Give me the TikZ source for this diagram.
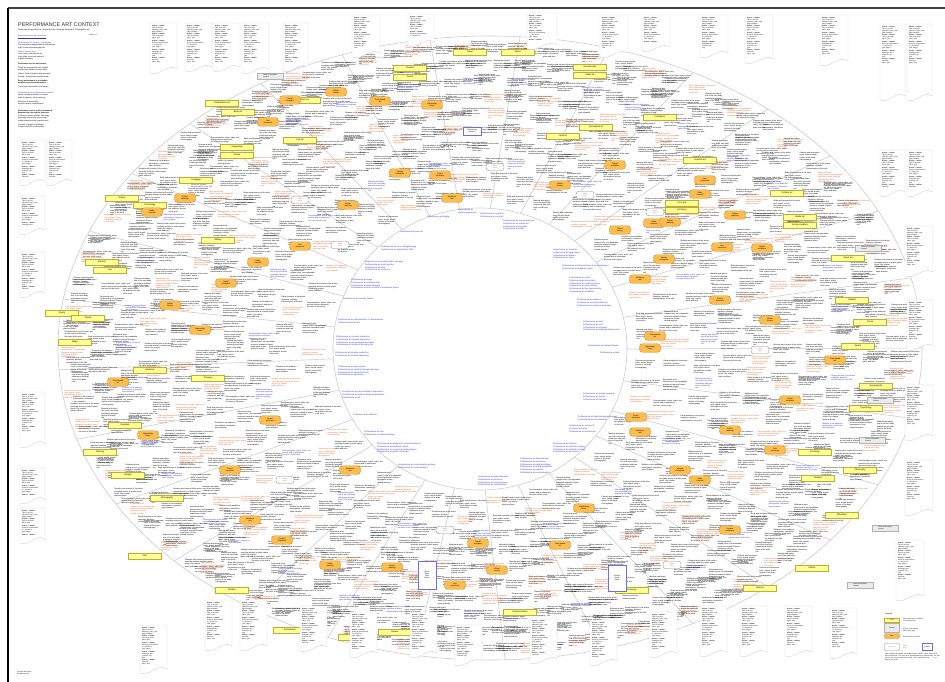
\documentclass[tikz,border=0pt]{standalone}
\usepackage{fontspec}
\setmainfont{Liberation Sans}
\usepackage{tikz}

\definecolor{yelfill}{RGB}{255,255,150}
\definecolor{yelline}{RGB}{190,175,50}
\definecolor{orfill}{RGB}{250,190,80}
\definecolor{orline}{RGB}{226,135,35}
\definecolor{ortxt}{RGB}{236,100,40}
\definecolor{bltxt}{RGB}{45,50,215}
\definecolor{ringgray}{RGB}{205,205,205}
\definecolor{taggray}{RGB}{212,212,212}

% short texts of the ring
\newcommand\blurb[1]{\ifcase#1 Body and presence of the artist\\time, space, action\\the audience as part\\of the work\or
  Relation to the audience\\participation, interaction\\open situation\or
  Situation and context of the action\\everyday actions in public space\\street, city, market\\place and time\or
  Documentation: photo, video, text\\archive and re-enactment\\the trace of the event\or
  Ephemeral work\\unique event, not repeatable\\presence instead of object\\experience of time\\shared moment\or
  Ritual elements in the action\\repetition, duration\\transformation of the self\or
  Gesture and movement\\voice, sound, breath\\rhythm of the body\\choreography\or
  Material and object\\use of the own body\\endurance and pain\\limits of the body\\risk\fi}

\newcommand\olab[1]{\ifcase#1 Vienna\\Actionism\or Body\\concept\or Action\\painting\or Live\\presence\or Social\\sculpture\or Ritual\\theory\or Time-based\\art\or Happening\\score\or Event\\structure\or Audience\\role\fi}

\newcommand\tagbody{\textbf{Source -- Author}\\Title of the text\\publisher, place, year\\page numbers\\[0.6pt]\textbf{Source -- Author}\\Title of the book\\place, year\\[0.6pt]\textbf{Source -- Author}\\Essay on performance\\in: journal, no.\\year, pages\\[0.6pt]\textbf{Source -- Author}\\Catalogue text\\museum, city\\year\\[0.6pt]\textbf{Source -- Author}\\Interview\\place, year}

% tag with wavy lower edge: x, y, w, h, name
\newcommand\tagbox[5]{%
  \draw[tagline] (#1,#2) -- (#1+#3,#2) -- (#1+#3,#2+#4-4)
     .. controls (#1+0.65*#3,#2+#4-10) and (#1+0.35*#3,#2+#4+4) .. (#1,#2+#4) -- cycle;
  \begin{scope}
    \clip (#1,#2) rectangle (#1+#3,#2+#4-9);
    \node[tagtxt] (#5) at (#1+2,#2+2) {\tagbody};
  \end{scope}}

\begin{document}
\begin{tikzpicture}[x=1pt, y=-1pt,
    every node/.style={inner sep=0pt},
    filltxt/.style={font=\fontsize{1.9}{2.35}\selectfont, align=left},
    perf/.style={font=\fontsize{2.1}{2.75}\selectfont, align=left, text=bltxt, anchor=north west},
    ybox/.style={draw=yelline, fill=yelfill, line width=0.5pt, font=\fontsize{2.2}{2.6}\selectfont, minimum width=33pt, minimum height=6pt},
    obox/.style={draw=orline, fill=orfill, line width=0.45pt, rounded corners=3pt, font=\fontsize{2}{2.4}\selectfont, align=center, minimum width=21pt, minimum height=8.5pt},
    wbox/.style={draw=black!45, fill=white, line width=0.35pt, rounded corners=3pt, font=\fontsize{1.8}{2.2}\selectfont, text=ortxt, align=center, minimum width=18pt, minimum height=7.5pt},
    gbox/.style={draw=black!30, fill=black!8, line width=0.3pt, font=\fontsize{1.8}{2.2}\selectfont, align=left, inner sep=1pt},
    bbox/.style={draw=bltxt!70, fill=white, line width=0.45pt, font=\fontsize{1.8}{2.2}\selectfont, align=center},
    ringline/.style={draw=ringgray, line width=0.6pt},
    tagline/.style={draw=taggray, line width=0.4pt, fill=white},
    tagtxt/.style={font=\fontsize{1.6}{2}\selectfont, align=left, anchor=north west, text width=22pt},
    small/.style={font=\fontsize{1.9}{2.5}\selectfont, align=left}]
  \useasboundingbox[fill=white] (0,0) rectangle (945,682);

  % frame
  \draw[line width=1.3pt, black!75] (8,8) -- (945,8);
  \draw[line width=1.3pt, black] (8,8) -- (8,682);

  % title block
  \node[anchor=base west, font=\fontsize{5.4}{6}\selectfont, text=black!80] (title) at (18,27) {PERFORMANCE ART CONTEXT};
  \node[anchor=base west, font=\fontsize{1.9}{2.2}\selectfont] (subtitle) at (18,31) {Performance Approaches in Art and Science Using the Example of “Performance Art”};
  \node[anchor=base east, font=\fontsize{1.6}{2}\selectfont] (date) at (97,36) {Version 1.0};
  \node[small, anchor=north west] (intro) at (18,35) {%
    {\color{bltxt}\underline{www.performance-art-context.net}}\\[2pt]
    {\color{bltxt}Performance Art Context -- Introduction}\\
    The map shows approaches to performance\\in art, science and everyday life\\[1.5pt]
    {\color{bltxt}How to read the map}\\
    Inner circle: performance as ...\\ring: fields, terms and sources\\outside: literature\\[2pt]
    \textbf{Performance in art and science}\\[1.5pt]
    Terms are arranged by their context\\
    and by their distance to each other\\[1.5pt]
    Yellow: fields of practice and research\\
    Orange: central terms and concepts\\[1.5pt]
    \textbf{Every performance is a situation}\\
    \textbf{between action and perception}\\[1.5pt]
    The sources are listed in the margin\\[3pt]
    {\color{bltxt}Performance art and performance studies}\\
    Terms, names and works in context\\
    Map of relations, not a hierarchy\\[1.5pt]
    Selection of approaches\\
    without claim to completeness\\[4pt]
    \textbf{Performance art as a field of research}\\
    \textbf{between the arts and the sciences}\\
    Art history, theatre studies, sociology\\
    ethnology, philosophy, psychology\\
    media studies and the practice itself\\[1.5pt]
    Concept, research and design\\
    Contact and further information};

  % ring
  \draw[ringline] (490,348) ellipse [x radius=432pt, y radius=312pt];
  \draw[ringline] (480,349) ellipse [x radius=147pt, y radius=141pt];
  \foreach \sa in {0,13,26,38,50,62,75,88,100,112,124,137,150,163,176,189,202,214,226,238,250,262,274,286,298,310,322,334,347}
    \draw[ringline] ({480+147*cos(\sa)},{349+141*sin(\sa)}) -- ({490+432*cos(\sa)},{348+312*sin(\sa)});

  % texts of the ring
  \pgfmathsetseed{11}
  \foreach \k in {1,...,10}{
    \pgfmathsetmacro\rr{(\k-0.5)/10*0.95+0.03}
    \pgfmathtruncatemacro\nn{30+15*\k}
    \foreach \j in {1,...,\nn}{
      \pgfmathsetmacro\ang{360/\nn*(\j+0.5*mod(\k,2))+rand*1.5}
      \pgfmathsetmacro\px{480+10*\rr+(147+285*\rr)*cos(\ang)+rand*4}
      \pgfmathsetmacro\py{349-\rr+(141+171*\rr)*sin(\ang)+rand*2}
      \pgfmathtruncatemacro\vv{mod(\j*7+\k*3,8)}
      \pgfmathtruncatemacro\cc{mod(\j*5+\k*11,20)}
      \ifcase\cc \def\tc{ortxt}\or \def\tc{ortxt}\or \def\tc{ortxt}\or \def\tc{bltxt}\else \def\tc{black}\fi
      \node[filltxt, text=\tc] (f\k-\j) at (\px,\py) {\blurb{\vv}};
    }
  }

  % fields
  \foreach \x/\y/\lab [count=\i] in {222/103/Performance art, 238/112/Body art, 237/147/Happening, 237/155/Fluxus,
      304/100/Action art, 300/140/Live art, 410/68/Theatre, 410/77/Dance, 470/52/Ritual, 518/52/Music,
      590/67/Sound poetry, 590/75/Video art, 660/117/Installation, 596/127/Conceptual art, 563/136/Land art,
      700/160/Feminist art, 787/193/Political art, 800/217/Media art, 800/225/Social sculpture, 848/258/Street art,
      852/300/Cabaret, 870/322/Circus, 858/346/Sports, 876/386/Everyday life, 866/408/Psychology,
      815/452/Sociology, 860/470/Philosophy, 818/478/Religion, 842/515/Education, 812/568/Politics,
      760/588/Science, 632/590/Economy, 520/612/Communication, 395/632/Games, 355/637/Literature,
      290/630/Architecture, 232/590/Fashion, 145/556/Film, 167/498/Photography, 128/475/Design,
      100/452/Painting, 125/425/Sculpture, 62/313/Poetry, 88/318/Opera, 75/342/Magic,
      150/370/Medicine, 208/378/Therapy, 102/262/Rhetoric, 110/270/Law, 218/240/Military,
      150/205/Technology, 122/198/Nature, 196/180/Language, 682/203/Fine arts, 682/210/Art theory}
    \node[ybox] (yb\i) at (\x,\y) {\lab};

  % terms
  \foreach \x/\y [count=\i] in {152/212, 185/198, 268/122, 290/100, 336/92, 380/101, 432/105, 440/175, 452/198, 400/173,
      258/262, 348/205, 300/246, 226/283, 170/305, 118/382, 148/435, 230/470, 350/470, 282/540,
      330/565, 392/567, 455/585, 478/543, 497/570, 560/545, 584/508, 636/417, 640/432, 680/470,
      700/480, 730/430, 775/450, 790/400, 770/320, 655/336, 650/348, 720/300, 640/279, 664/259,
      700/194, 735/215, 705/180, 615/165, 560/185, 835/360, 200/330, 270/420, 250/520, 730/530,
      654/223, 670/222, 722/247, 762/248, 620/230}{
    \pgfmathtruncatemacro\oi{mod(\i,10)}
    \node[obox] (ob\i) at (\x,\y) {\olab{\oi}};
  }

  % open terms
  \foreach \x/\y [count=\i] in {340/245, 495/167, 285/480, 445/530, 672/565, 585/195, 300/200, 760/350, 655/212}
    \node[wbox] (wb\i) at (\x,\y) {Open\\term};

  % blue frames and grey notes
  \node[bbox, minimum width=18pt, minimum height=8pt] (bb1) at (472,131) {Performance\\situation};
  \node[bbox, minimum width=18pt, minimum height=28pt] (bb2) at (427,575) {Action\\Body\\Time\\Space};
  \node[bbox, minimum width=18pt, minimum height=26pt] (bb3) at (617,578) {Context\\Work\\Public};
  \foreach \x/\y [count=\i] in {270/76, 868/248, 880/400, 872/440, 860/585, 885/528}
    \node[gbox, minimum width=26pt] (gb\i) at (\x,\y) {Note on the field\\source};

  % inner circle: performance as ...
  \foreach \x/\y/\txt [count=\i] in {
      400/231/{Performance as process},
      381/246/{Performance as art of surfing/learning\\Performance as interpretation (life)},
      365/261/{Performance as socially implicit role play\\Performance as social practice\\Performance as ritual\\Performance as ceremony},
      351/279/{Performance as image\\Performance as craftsmanship\\Performance as direct dialogue\\Performance as form of action in therapeutic praxis},
      343/298/{Performance as memory theater},
      338/319/{Performance as representation of circumstances\\Performance as theater},
      336/336/{Performance as situative production\\Performance as situative experience\\Performance as conforming presentation\\Performance as theater of everyday life},
      335/352/{Performance as situative production\\Performance as situative happening},
      338/366/{Performance as open system\\Performance as breaking through structures\\Performance as transitional form\\Performance as agreement},
      342/391/{Performance as personal field of experiment\\Performance as interface between disciplines\\Performance as gift},
      353/414/{Performance as reflection},
      364/431/{Performance as trust\\Performance as political strategy},
      377/443/{Performance as medium for communicating art\\Performance as feedback system\\Performance as social entity phenomenon\\Performance as gesture of protest},
      398/464/{Performance as communicative gesture\\Performance as communication},
      478/476/{Performance as interpenetration\\Performance as presence\\Performance as self-experience\\Performance as transformation},
      427/216/{Performance as singing},
      458/209/{Performance as\\musical experience},
      480/213/{Performance as sound art\\Performance as vocal art},
      503/220/{Performance as vocal expression\\Performance as speech act\\Performance as language\\Performance as poetry},
      553/249/{Performance as sculpture\\Performance as living image\\Performance as tableau\\Performance as object},
      562/265/{Performance as demonstration of an arrangement\\Performance as imaginary space},
      569/277/{Performance as action\\Performance as intervention\\Performance as creative process\\Performance as open material\\Performance as free improvisation\\Performance as installation},
      577/299/{Performance as audience\\Performance as mutual reflection\\Performance as collective encounter},
      583/321/{Performance as work\\Performance as craft\\Performance as sculpture\\Performance as mind-generating action},
      588/345/{Performance as machine theater},
      600/352/{Performance as play},
      583/393/{Performance as spoken language\\Performance as speech\\Performance as narration},
      578/416/{Performance as transformational element\\Performance as time-based art},
      569/425/{Performance as a space of\\encounter and play\\Performance as social event},
      553/443/{Performance as attention\\Performance as aesthetic category\\Performance as aesthetic strategy\\Performance as art practice},
      520/458/{Performance as demonstration\\Performance as resistance\\Performance as political strategy\\Performance as self-determination\\Performance as practice\\Performance as communication}}
    \node[perf] (pa\i) at (\x,\y) {\txt};

  % sources in the margin
  \foreach \x/\y/\w/\h [count=\i] in {150/23/27/50, 185/23/27/48, 213/23/27/48, 242/23/27/50, 283/23/25/48,
      352/15/28/42, 408/14/26/32, 527/13/30/36, 600/15/28/42, 642/15/28/36, 700/15/28/42, 745/15/28/48, 820/15/28/50,
      880/24/25/76, 907/24/25/76, 880/150/25/46, 907/150/25/46, 905/226/28/50, 907/300/26/50, 905/385/28/55,
      905/460/28/55, 896/540/28/60,
      20/140/25/45, 47/140/25/45, 20/196/25/38, 20/252/25/45, 20/392/25/55, 20/468/25/35, 20/508/25/35,
      140/625/27/48, 205/600/27/50, 240/600/27/50, 300/606/27/45, 350/612/27/45, 410/612/27/45, 455/625/27/40,
      530/618/27/45, 590/620/27/45, 650/612/27/45, 700/606/27/50, 740/606/27/50, 785/606/27/50, 830/608/27/50}
    \tagbox{\x}{\y}{\w}{\h}{tg\i};

  % legend
  \node[anchor=west, font=\fontsize{2}{2.4}\selectfont] (legend) at (885,614) {Legend};
  \node[ybox, minimum width=15pt, minimum height=4pt, font=\fontsize{1.6}{2}\selectfont] (legy) at (892,620) {Field};
  \node[gbox, minimum width=15pt, minimum height=9pt] (legg) at (892,628) {Source};
  \node[obox, minimum width=15pt, minimum height=5pt, rounded corners=2pt, font=\fontsize{1.6}{2}\selectfont] (lego) at (892,636) {Term};
  \node[wbox, minimum width=15pt, minimum height=7pt, rounded corners=1pt, font=\fontsize{1.6}{2}\selectfont] (legw) at (892,647) {Open term};
  \node[bbox, minimum width=10pt, minimum height=7pt] (legb) at (927,647) {Frame};
  \node[small, anchor=west, font=\fontsize{1.6}{2}\selectfont] (legyt) at (903,620) {Field of practice or research\\in art and science};
  \node[small, anchor=west, font=\fontsize{1.6}{2}\selectfont] (leggt) at (903,630) {Source in the margin\\author, title, year};
  \node[small, anchor=west, font=\fontsize{1.6}{2}\selectfont] (legot) at (903,637) {Central term or concept};
  \node[small, anchor=west, font=\fontsize{1.6}{2}\selectfont, text=ortxt] (legwt) at (903,647) {Name\\work};
  \node[small, anchor=north west, font=\fontsize{1.6}{2}\selectfont, text width=55pt] (legtx) at (885,653) {Terms, names and works are placed by their context. Lines mark the borders of the fields. The inner circle lists approaches to performance, the margin lists the sources used for the map. {\color{bltxt}Blue}: performance as ... {\color{ortxt}Orange}: names and works.};

  % imprint
  \node[small, anchor=north west, font=\fontsize{1.6}{2}\selectfont] (imprint) at (17,671) {Concept and design\\Research project};
\end{tikzpicture}
\end{document}
